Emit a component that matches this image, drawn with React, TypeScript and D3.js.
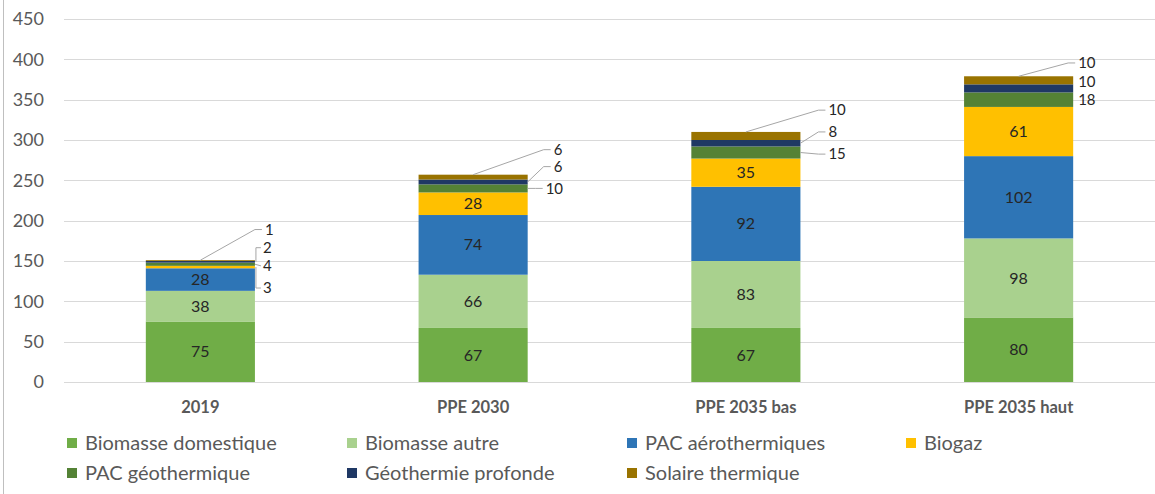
import React from "react";
import * as d3 from "d3";

const categories = ["2019", "PPE 2030", "PPE 2035 bas", "PPE 2035 haut"];
const seriesNames = [
  "Biomasse domestique",
  "Biomasse autre",
  "PAC aérothermiques",
  "Biogaz",
  "PAC géothermique",
  "Géothermie profonde",
  "Solaire thermique",
];
const biomasseDomestique = [75, 67, 67, 80];
const biomasseAutre = [38, 66, 83, 98];
const pacAero = [28, 74, 92, 102];
const biogaz = [3, 28, 35, 61];
const pacGeo = [4, 10, 15, 18];
const geoProfonde = [2, 6, 8, 10];
const solaire = [1, 6, 10, 10];
const yTicks = [0, 50, 100, 150, 200, 250, 300, 350, 400, 450];

const colors = ["#70AD47", "#A9D18E", "#2E75B6", "#FFC000", "#548235", "#1F3864", "#997300"];

// outside labels with leader lines: category index, series index, label y (in value units), x offset, line kind
const outsideLabels = [
  { c: 0, s: 3, ly: 116.5, dx: 8, kind: "elbow" },
  { c: 0, s: 4, ly: 144, dx: 8, kind: "straight" },
  { c: 0, s: 5, ly: 166.5, dx: 8, kind: "elbow" },
  { c: 0, s: 6, ly: 189, dx: 10, kind: "top" },
  { c: 1, s: 4, ly: 240, dx: 18, kind: "side" },
  { c: 1, s: 5, ly: 267, dx: 26, kind: "side" },
  { c: 1, s: 6, ly: 288, dx: 26, kind: "top" },
  { c: 2, s: 4, ly: 282.5, dx: 28, kind: "side" },
  { c: 2, s: 5, ly: 310, dx: 28, kind: "side" },
  { c: 2, s: 6, ly: 337, dx: 28, kind: "top" },
  { c: 3, s: 4, ly: 350, dx: 5, kind: "none" },
  { c: 3, s: 5, ly: 372.6, dx: 5, kind: "none" },
  { c: 3, s: 6, ly: 395.5, dx: 5, kind: "top" },
];

const legendCols = [67, 347, 627, 906];

export default function App() {
  const W = 1155;
  const H = 494;
  const left = 64;
  const right = 1155;
  const top = 19;
  const bottom = 382;
  const font = "Lato, 'Open Sans', sans-serif";

  const allSeries = [biomasseDomestique, biomasseAutre, pacAero, biogaz, pacGeo, geoProfonde, solaire];
  const table = categories.map((c, i) => {
    const o: any = { cat: c };
    seriesNames.forEach((n, j) => (o[n] = allSeries[j][i]));
    return o;
  });
  const stacked = d3.stack().keys(seriesNames)(table);

  const x = d3.scaleBand().domain(categories).range([left, right]).padding(0);
  const y = d3.scaleLinear().domain([0, 450]).range([bottom, top]);
  const barW = x.bandwidth() * 0.4;
  const cx = (c: string) => (x(c) as number) + x.bandwidth() / 2;

  return (
    <svg width={W} height={H} style={{ position: "absolute", left: 0, top: 0, background: "#fff" }}>
      <line x1={3.5} x2={3.5} y1={0} y2={H} stroke="#bfbfbf" />
      {yTicks.map((t) => (
        <g key={t}>
          <line x1={left} x2={right} y1={Math.round(y(t)) + 0.5} y2={Math.round(y(t)) + 0.5} stroke="#d9d9d9" />
          <text x={44} y={y(t)} dy="0.35em" textAnchor="end" fontSize={18} fill="#595959" fontFamily={font}>
            {t}
          </text>
        </g>
      ))}
      {stacked.map((layer, j) => (
        <g key={layer.key}>
          {layer.map((d, i) => {
            const c = categories[i];
            const y0 = y(d[0]);
            const y1 = y(d[1]);
            return (
              <rect key={c} x={cx(c) - barW / 2} y={y1} width={barW} height={y0 - y1} fill={colors[j]} />
            );
          })}
          {layer.map((d, i) => {
            const c = categories[i];
            const v = allSeries[j][i];
            const inside = !outsideLabels.some((o) => o.c === i && o.s === j);
            if (!inside) return null;
            return (
              <text
                key={"t" + c}
                x={cx(c)}
                y={y((d[0] + d[1]) / 2)}
                dy="0.35em"
                textAnchor="middle"
                fontSize={16}
                fill="#262626"
                fontFamily={font}
              >
                {v}
              </text>
            );
          })}
        </g>
      ))}
      {outsideLabels.map((o, k) => {
        const c = categories[o.c];
        const seg = stacked[o.s][o.c];
        const barRight = cx(c) + barW / 2;
        const lx = barRight + o.dx;
        const ly = y(o.ly);
        const midY = y((seg[0] + seg[1]) / 2);
        let path = "";
        if (o.kind === "elbow") {
          path = `M${barRight + 1},${midY} L${barRight + 1},${ly} L${lx - 2},${ly}`;
        } else if (o.kind === "straight") {
          path = `M${barRight},${midY} L${lx - 2},${ly}`;
        } else if (o.kind === "side") {
          path = `M${barRight},${midY} L${lx - 10},${ly} L${lx - 3},${ly}`;
        } else if (o.kind === "top") {
          path = `M${cx(c)},${y(seg[1])} L${lx - 10},${ly} L${lx - 3},${ly}`;
        }
        return (
          <g key={k}>
            {path && <path d={path} fill="none" stroke="#a6a6a6" strokeWidth={1} />}
            <text x={lx} y={ly} dy="0.35em" fontSize={15} fill="#262626" fontFamily={font}>
              {allSeries[o.s][o.c]}
            </text>
          </g>
        );
      })}
      {categories.map((c) => (
        <text
          key={c}
          x={cx(c)}
          y={407}
          dy="0.35em"
          textAnchor="middle"
          fontSize={16.5}
          fontWeight="bold"
          fill="#595959"
          fontFamily={font}
        >
          {c}
        </text>
      ))}
      {seriesNames.map((n, j) => {
        const row = Math.floor(j / 4);
        const col = j % 4;
        const lx = legendCols[col];
        const ly = 443 + row * 30;
        return (
          <g key={n}>
            <rect x={lx} y={ly - 5} width={10} height={10} fill={colors[j]} />
            <text x={lx + 18} y={ly} dy="0.35em" fontSize={20} fill="#595959" fontFamily={font}>
              {n}
            </text>
          </g>
        );
      })}
    </svg>
  );
}
